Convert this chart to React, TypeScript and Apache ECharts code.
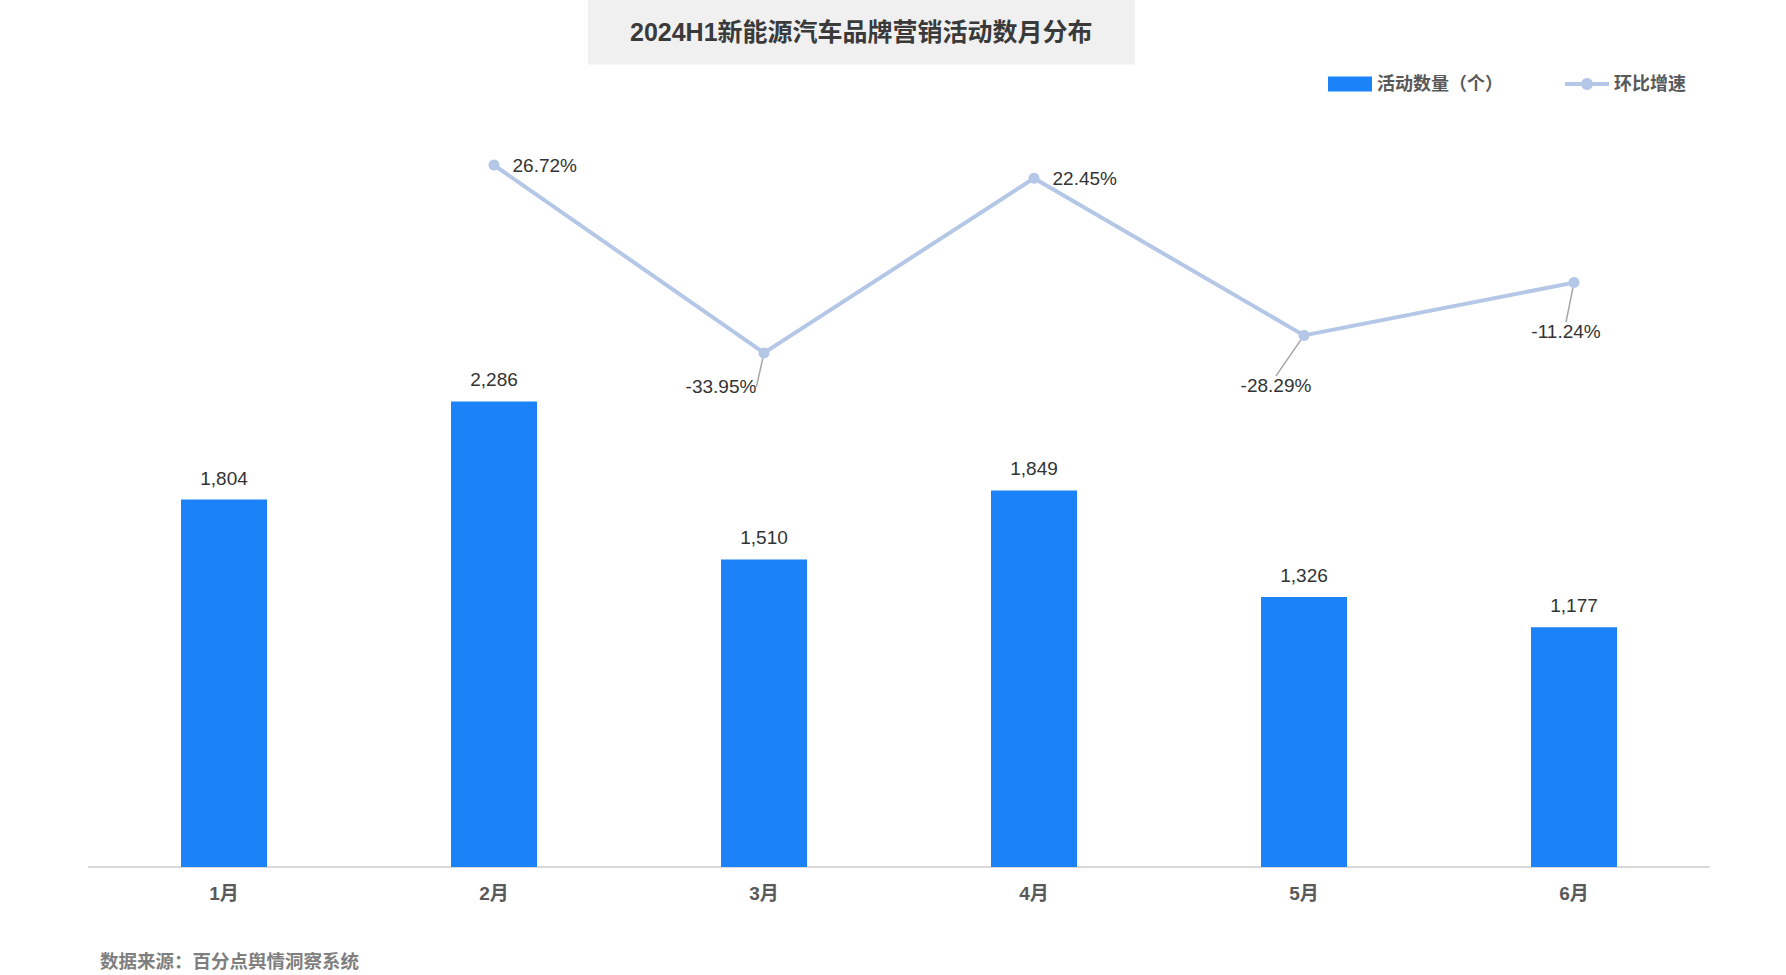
import React, { useEffect, useRef } from "react";
import * as echarts from "echarts";

const months = ["1月", "2月", "3月", "4月", "5月", "6月"];
const activityCounts = [1804, 2286, 1510, 1849, 1326, 1177];
const growthRates = [null, 26.72, -33.95, 22.45, -28.29, -11.24];

// where the moved growth labels sit, relative to their point (null = right of it)
const growthLabelOffsets = [null, null, [-43, 34], null, [-28, 50], [-8, 49]];

const FONT = "'Liberation Sans', 'Noto Sans CJK SC', sans-serif";
const BAR_COLOR = "#1b82f7";
const LINE_COLOR = "#b4c7e7";

const App = () => {
    const chartRef = useRef(null);

    useEffect(() => {
        document.body.style.margin = "0";
        if (!chartRef.current) return;

        const chart = echarts.init(chartRef.current, null, { renderer: "svg" });

        const lineData = growthRates.map((v, i) => ({
            value: v,
            labelLine: { show: !!growthLabelOffsets[i] }
        }));

        const options = {
            animation: false,
            textStyle: { fontFamily: FONT },
            title: {
                text: "2024H1新能源汽车品牌营销活动数月分布",
                left: 588,
                top: 0,
                padding: [20, 42, 20, 42],
                backgroundColor: "#f0f0f0",
                textStyle: {
                    fontFamily: FONT,
                    fontSize: 25,
                    lineHeight: 24,
                    fontWeight: "bold",
                    color: "#3a3a3a"
                }
            },
            legend: {
                left: 1323,
                top: 70,
                itemWidth: 44,
                itemHeight: 15,
                itemGap: 60,
                lineStyle: { width: 4 },
                textStyle: { fontFamily: FONT, fontSize: 18, fontWeight: "bold", color: "#595959" },
                data: [
                    { name: "活动数量（个）", icon: "rect" },
                    { name: "环比增速" }
                ]
            },
            grid: { left: 89, right: 77, top: 93, bottom: 108 },
            xAxis: {
                type: "category",
                data: months,
                axisTick: { show: false },
                axisLine: { lineStyle: { color: "#d9d9d9", width: 2 } },
                axisLabel: {
                    margin: 17,
                    fontFamily: FONT,
                    fontSize: 19,
                    fontWeight: "bold",
                    color: "#595959"
                }
            },
            yAxis: [
                { type: "value", min: 0, max: 3800, show: false },
                { type: "value", min: -200, max: 50, show: false }
            ],
            graphic: [
                {
                    type: "text",
                    left: 100,
                    top: 952,
                    style: {
                        text: "数据来源：百分点舆情洞察系统",
                        font: `bold 18.5px ${FONT}`,
                        fill: "#7f7f7f"
                    }
                }
            ],
            series: [
                {
                    name: "活动数量（个）",
                    type: "bar",
                    barWidth: 86,
                    itemStyle: { color: BAR_COLOR },
                    label: {
                        show: true,
                        position: "top",
                        distance: 12,
                        fontFamily: FONT,
                        fontSize: 19,
                        color: "#333333",
                        formatter: (p) => Number(p.value).toLocaleString("en-US")
                    },
                    data: activityCounts
                },
                {
                    name: "环比增速",
                    type: "line",
                    yAxisIndex: 1,
                    symbol: "circle",
                    symbolSize: 11,
                    connectNulls: false,
                    lineStyle: { color: LINE_COLOR, width: 4 },
                    itemStyle: { color: LINE_COLOR },
                    label: {
                        show: true,
                        position: "right",
                        distance: 13,
                        fontFamily: FONT,
                        fontSize: 19,
                        color: "#333333",
                        formatter: (p) => (p.value == null ? "" : `${Number(p.value).toFixed(2)}%`)
                    },
                    labelLine: {
                        lineStyle: { color: "#a6a6a6", width: 1.5 }
                    },
                    labelLayout: (params) => {
                        const off = growthLabelOffsets[params.dataIndex];
                        if (!off) return {};
                        const r = params.rect;
                        return {
                            x: r.x + r.width / 2 + off[0],
                            y: r.y + r.height / 2 + off[1],
                            align: "center",
                            verticalAlign: "middle"
                        };
                    },
                    data: lineData
                }
            ]
        };

        chart.setOption(options);
        return () => chart.dispose();
    }, []);

    return <div ref={chartRef} style={{ width: "1786px", height: "975px" }} />;
};

export default App;
